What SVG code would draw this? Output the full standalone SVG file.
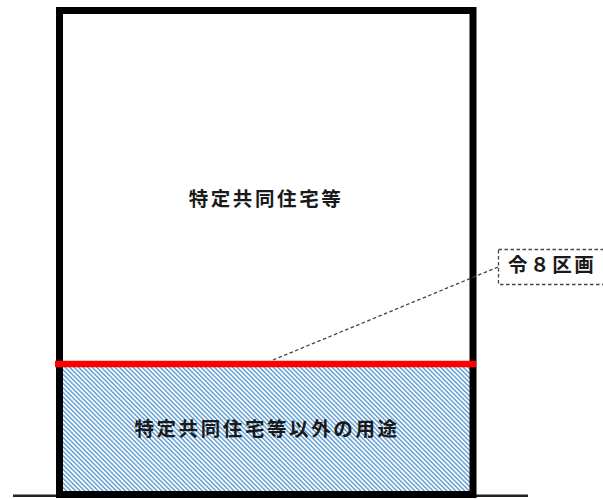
<svg xmlns="http://www.w3.org/2000/svg" width="603" height="499" viewBox="0 0 603 499">
<style>
.lbl{font-family:"Noto Sans CJK JP","Noto Sans",sans-serif;font-weight:bold;font-size:19.5px;fill:#1a1a1a;letter-spacing:2.6px}
.frame{fill:none;stroke:#000;stroke-width:7}
.dash{fill:none;stroke:#444;stroke-width:1.3;stroke-dasharray:3.5,2.5}
</style>
<defs>
<pattern id="hatch" patternUnits="userSpaceOnUse" width="3.2" height="4" patternTransform="rotate(-45)">
<rect width="3.2" height="4" fill="#fff"/>
<rect width="1.4" height="4" fill="#5B9BD5"/>
</pattern>
</defs>
<rect width="603" height="499" fill="#fff"/>
<g id="lower">
<rect x="63" y="367" width="407" height="126" fill="url(#hatch)"/>
<text class="lbl" x="267" y="436" text-anchor="middle">特定共同住宅等以外の用途</text>
</g>
<g id="upper">
<text class="lbl" x="266" y="206" text-anchor="middle">特定共同住宅等</text>
</g>
<g id="building">
<line x1="13" y1="495.8" x2="528" y2="495.8" stroke="#222" stroke-width="2.5"/>
<rect class="frame" x="59.5" y="10.5" width="413.5" height="484"/>
<line x1="55" y1="364" x2="476" y2="364" stroke="#ff0000" stroke-width="6.5"/>
</g>
<g id="connectors">
<line class="dash" x1="273" y1="360" x2="498" y2="267"/>
</g>
<g id="label">
<rect class="dash" x="498.5" y="249.5" width="120" height="35"/>
<text class="lbl" x="508" y="272" letter-spacing="2">令８区画</text>
</g>
</svg>
